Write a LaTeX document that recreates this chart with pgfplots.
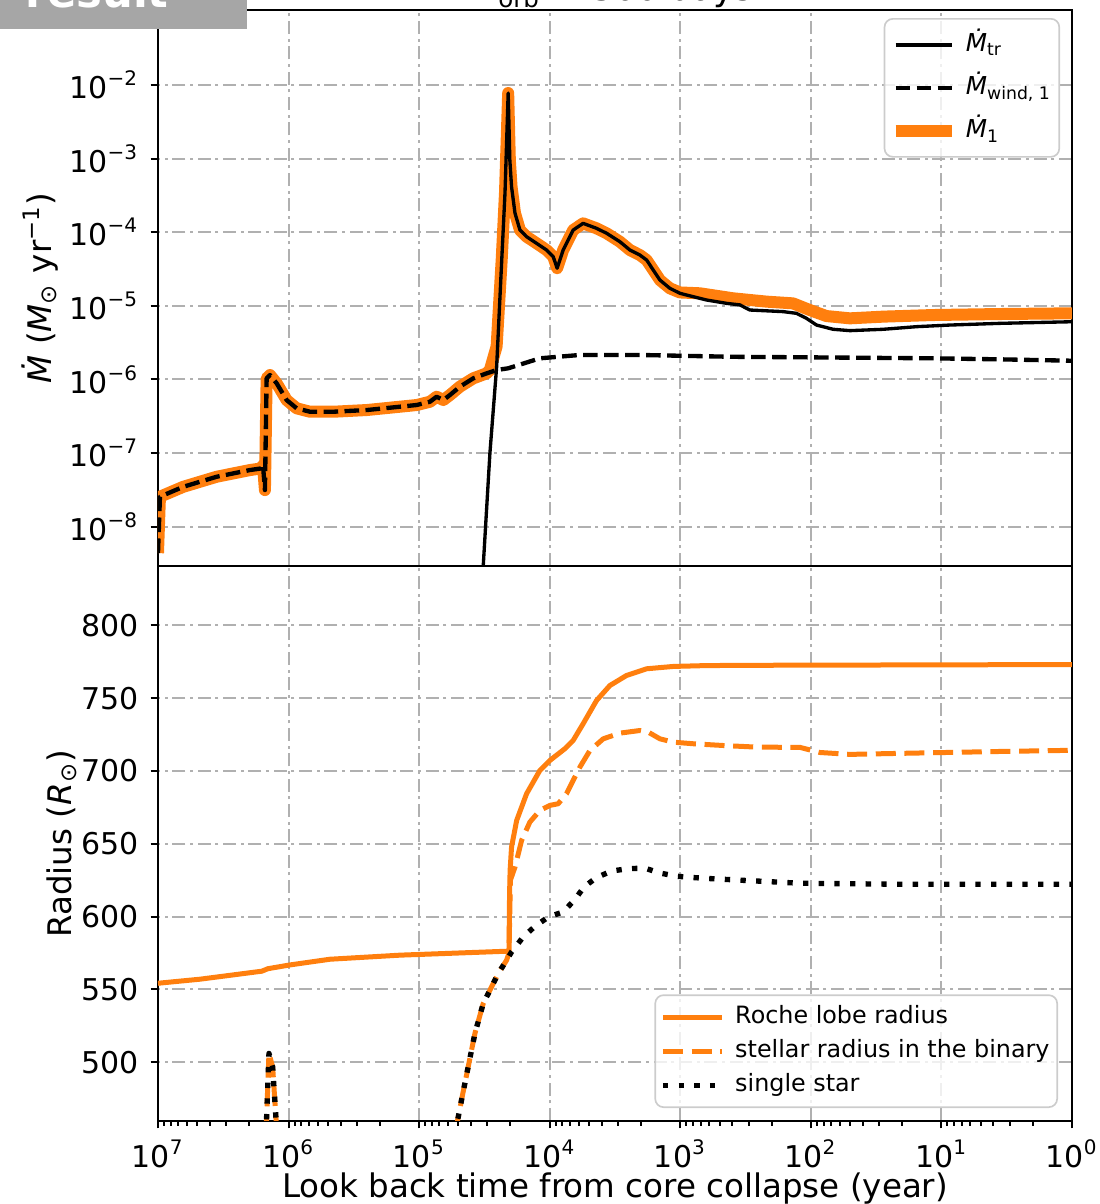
\documentclass[border=0pt]{standalone}
\usepackage{fontspec}
\setmainfont{DejaVu Sans}
\usepackage{pgfplots}
\usepackage{pgfplotstable}
\pgfplotsset{compat=1.18}

\definecolor{taborange}{RGB}{255,127,14}
\definecolor{gridgray}{RGB}{176,176,176}
\definecolor{legedge}{RGB}{204,204,204}
\definecolor{badge}{RGB}{166,166,166}

% ---------- mass-loss rates (Msun/yr) vs look-back time (yr) ----------
% total mass-loss rate of the donor
\pgfplotstableread{
t       m
1.0e7   4.37e-9
9.66e6  2.55e-8
6.40e6  3.48e-8
3.56e6  4.76e-8
1.98e6  5.87e-8
1.607e6 6.19e-8
1.570e6 6.87e-8
1.517e6 3.14e-8
1.472e6 1.035e-6
1.387e6 1.148e-6
1.233e6 8.85e-7
1.035e6 5.25e-7
8.67e5  4.05e-7
6.85e5  3.64e-7
4.55e5  3.64e-7
2.52e5  3.84e-7
1.403e5 4.26e-7
1.045e5 4.49e-7
8.26e4  4.98e-7
7.35e4  5.82e-7
6.53e4  5.25e-7
5.81e4  6.14e-7
4.88e4  7.96e-7
3.85e4  1.035e-6
3.04e4  1.21e-6
2.87e4  1.35e-6
2.55e4  2.81e-6
2.33e4  4.33e-5
2.20e4  3.43e-4
2.08e4  7.78e-3
2.02e4  9.57e-4
1.96e4  4.15e-4
1.845e4 1.82e-4
1.69e4  1.07e-4
1.503e4 8.69e-5
1.259e4 7.06e-5
1.057e4 5.73e-5
9.40e3  4.65e-5
8.77e3  3.24e-5
7.89e3  5.73e-5
6.61e3  1.07e-4
5.55e3  1.32e-4
4.38e3  1.13e-4
3.66e3  9.66e-5
2.90e3  7.43e-5
2.43e3  5.73e-5
2.04e3  4.90e-5
1.81e3  4.19e-5
1.61e3  3.06e-5
1.432e3 2.24e-5
1.202e3 1.73e-5
1.007e3 1.52e-5
708     1.48e-5
394     1.265e-5
218     1.14e-5
137     1.08e-5
102     8.77e-6
75.9    7.26e-6
50.2    6.76e-6
27.9    7.13e-6
11.6    7.50e-6
3.57    7.74e-6
1.0     7.91e-6
}\mdotone

% mass-transfer rate
\pgfplotstableread{
t       m
3.27e4  2.0e-9
2.87e4  1.0e-7
2.55e4  1.47e-6
2.33e4  4.19e-5
2.20e4  3.41e-4
2.08e4  7.78e-3
2.02e4  9.57e-4
1.96e4  4.15e-4
1.845e4 1.82e-4
1.69e4  1.07e-4
1.503e4 8.69e-5
1.259e4 7.06e-5
1.057e4 5.73e-5
9.40e3  4.65e-5
8.77e3  3.24e-5
7.89e3  5.73e-5
6.61e3  1.07e-4
5.55e3  1.32e-4
4.38e3  1.13e-4
3.66e3  9.66e-5
2.90e3  7.43e-5
2.43e3  5.73e-5
2.04e3  4.90e-5
1.81e3  4.19e-5
1.61e3  3.06e-5
1.432e3 2.24e-5
1.202e3 1.73e-5
1.007e3 1.48e-5
796     1.33e-5
630     1.20e-5
442     1.08e-5
350     1.03e-5
293     8.77e-6
163     8.34e-6
129     7.91e-6
108     6.76e-6
90.4    5.48e-6
67.5    4.80e-6
50.2    4.60e-6
27.9    4.80e-6
15.5    5.21e-6
8.63    5.48e-6
3.57    5.78e-6
1.0     6.08e-6
}\mdottr

% wind mass-loss rate
\pgfplotstableread{
t       m
1.0e7   4.37e-9
9.66e6  2.55e-8
6.40e6  3.48e-8
3.56e6  4.76e-8
1.98e6  5.87e-8
1.607e6 6.19e-8
1.570e6 6.87e-8
1.517e6 3.14e-8
1.472e6 1.035e-6
1.387e6 1.148e-6
1.233e6 8.85e-7
1.035e6 5.25e-7
8.67e5  4.05e-7
6.85e5  3.64e-7
4.55e5  3.64e-7
2.52e5  3.84e-7
1.403e5 4.26e-7
1.045e5 4.49e-7
8.26e4  4.98e-7
7.35e4  5.82e-7
6.53e4  5.25e-7
5.81e4  6.14e-7
4.88e4  7.96e-7
3.85e4  1.035e-6
3.04e4  1.21e-6
2.55e4  1.343e-6
2.08e4  1.416e-6
1.189e4 1.936e-6
5.87e3  2.15e-6
2.04e3  2.15e-6
395     2.03e-6
121     2.00e-6
11.6    1.936e-6
3.57    1.875e-6
1.0     1.795e-6
}\mdotwind

% ---------- radii (Rsun) vs look-back time (yr) ----------
\pgfplotstableread{
t       r
1.0e7   554.2
4.76e6  557.0
1.60e6  562.5
1.44e6  564.2
9.75e5  566.8
4.82e5  570.7
1.403e5 573.5
2.14e4  576.2
2.05e4  576.3
2.03e4  615.0
2.01e4  632.0
1.96e4  647.8
1.79e4  666.1
1.503e4 684.4
1.189e4 700.4
9.95e3  707.3
7.65e3  715.3
6.61e3  721.0
5.55e3  732.4
4.38e3  748.4
3.46e3  758.7
2.58e3  765.6
1.81e3  770.2
1.132e3 771.8
630     772.4
245     772.6
1.0     773.1
}\rochelobe

\pgfplotstableread{
t       r
5.32e4  450.6
4.73e4  474.2
4.21e4  496.8
3.74e4  519.7
3.23e4  540.3
2.87e4  549.4
2.48e4  560.9
2.14e4  570.0
2.05e4  575.0
2.00e4  625.0
1.845e4 634.0
1.64e4  652.4
1.419e4 664.9
1.189e4 672.9
9.95e3  676.4
8.61e3  677.5
7.43e3  684.4
6.61e3  693.5
5.87e3  702.7
4.92e3  714.1
3.89e3  722.1
2.90e3  726.0
2.04e3  727.8
1.76e3  726.7
1.432e3 722.1
1.132e3 719.8
796     718.7
469     717.5
261     716.4
121     716.2
85.3    712.7
50.2    711.4
20.8    712.1
3.57    713.4
1.0     714.2
}\binaryradius

\pgfplotstableread{
t       r
5.32e4  450.6
4.73e4  474.2
4.21e4  496.8
3.74e4  519.7
3.23e4  540.3
2.87e4  549.4
2.48e4  560.9
2.14e4  570.0
1.96e4  575.7
1.596e4 586.0
1.297e4 593.3
1.026e4 599.7
7.89e3  603.2
6.41e3  611.7
5.47e3  620.3
4.38e3  626.8
3.36e3  631.3
2.51e3  632.9
1.87e3  633.3
1.432e3 629.9
1.067e3 627.7
796     626.8
594     626.1
330     624.9
121     622.9
20.8    622.2
1.0     622.2
}\singlestar

% short excursion near 1.4 Myr (same in both radius tracks)
\pgfplotstableread{
t       r
1.49e6  450.0
1.48e6  456.8
1.413e6 506.0
1.324e6 496.8
1.239e6 456.8
1.225e6 450.0
}\radiusblip

\begin{document}
\begin{tikzpicture}

% ---------------- upper panel: mass-loss rates ----------------
\begin{axis}[
  scale only axis, width=274.2pt, height=166.8pt,
  at={(0pt,166.5pt)}, anchor=south west,
  xmode=log, ymode=log, x dir=reverse,
  xmin=1, xmax=1e7, ymin=2.92e-9, ymax=0.1045,
  axis line style={line width=0.7pt},
  tick align=outside, tick pos=left,
  major tick length=2.2pt, minor tick length=0pt,
  tick style={black, line width=0.6pt},
  grid=major,
  major grid style={gridgray, line width=0.6pt,
    dash pattern=on 3.9pt off 1.4pt on 0.9pt off 1.4pt},
  ticklabel style={font=\fontsize{9}{10}\selectfont},
  label style={font=\fontsize{9.75}{11}\selectfont},
  xtick={1,10,100,1000,1e4,1e5,1e6,1e7},
  xticklabels={}, xtick style={draw=none},
  ytick={1e-8,1e-7,1e-6,1e-5,1e-4,1e-3,1e-2},
  minor ytick={},
  yticklabels={10\textsuperscript{−8},10\textsuperscript{−7},10\textsuperscript{−6},10\textsuperscript{−5},10\textsuperscript{−4},10\textsuperscript{−3},10\textsuperscript{−2}},
  ylabel={\textit{\.M} (\textit{M}\textsubscript{⊙} yr\textsuperscript{−1})},
  ylabel style={at={(axis description cs:-0.129,0.5)}, anchor=center},
  legend cell align=left,
  legend style={at={(0.987,0.9856)}, anchor=north east,
    draw=legedge, line width=0.5pt, rounded corners=2.5pt,
    fill=white, fill opacity=0.8, text opacity=1,
    font=\fontsize{7.4}{8.5}\selectfont,
    inner xsep=1.5pt, inner ysep=3.3pt, row sep=3.9pt,
    nodes={text height=6pt, text depth=2pt, inner ysep=0.5pt, inner xsep=0.8pt}},
  legend image code/.code={\draw[#1] (0pt,0pt) -- (17pt,0pt); \path (18.5pt,0pt);},
]
\addlegendimage{black, line width=1pt}
\addlegendentry{\textit{\.M}\textsubscript{tr}}
\addlegendimage{black, line width=1.3pt, dash pattern=on 4.4pt off 1.9pt}
\addlegendentry{\textit{\.M}\textsubscript{wind, 1}}
\addlegendimage{taborange, line width=3.6pt}
\addlegendentry{\textit{\.M}\textsubscript{1}}

\addplot[forget plot, taborange, line width=3.6pt, line join=round] table[x=t, y=m] {\mdotone};
\addplot[forget plot, black, line width=1pt, line join=round] table[x=t, y=m] {\mdottr};
\addplot[forget plot, black, line width=1.3pt, line join=round, dash pattern=on 4.4pt off 1.9pt] table[x=t, y=m] {\mdotwind};
\end{axis}

% ---------------- lower panel: radii ----------------
\begin{axis}[
  scale only axis, width=274.2pt, height=166.5pt,
  at={(0pt,0pt)}, anchor=south west,
  xmode=log, x dir=reverse,
  xmin=1, xmax=1e7, ymin=459.6, ymax=840.8,
  axis line style={line width=0.7pt},
  tick align=outside, tick pos=left,
  major tick length=2.2pt, minor tick length=1.5pt,
  tick style={black, line width=0.6pt},
  grid=major,
  major grid style={gridgray, line width=0.6pt,
    dash pattern=on 3.9pt off 1.4pt on 0.9pt off 1.4pt},
  ticklabel style={font=\fontsize{9}{10}\selectfont},
  label style={font=\fontsize{9.75}{11}\selectfont},
  /pgf/number format/assume math mode=true,
  xtick={1,10,100,1000,1e4,1e5,1e6,1e7},
  xticklabels={10\textsuperscript{0},10\textsuperscript{1},10\textsuperscript{2},10\textsuperscript{3},10\textsuperscript{4},10\textsuperscript{5},10\textsuperscript{6},10\textsuperscript{7}},
  minor xtick={2,3,4,5,6,7,8,9,20,30,40,50,60,70,80,90,200,300,400,500,600,700,800,900,2000,3000,4000,5000,6000,7000,8000,9000,2e4,3e4,4e4,5e4,6e4,7e4,8e4,9e4,2e5,3e5,4e5,5e5,6e5,7e5,8e5,9e5,2e6,3e6,4e6,5e6,6e6,7e6,8e6,9e6},
  ytick={500,550,600,650,700,750,800},
  xlabel={Look back time from core collapse (year)},
  xlabel style={at={(axis description cs:0.5,-0.121)}, anchor=center},
  ylabel={Radius (\textit{R}\textsubscript{⊙})},
  ylabel style={at={(axis description cs:-0.105,0.5)}, anchor=center},
  legend cell align=left,
  legend style={at={(0.9847,0.0234)}, anchor=south east,
    draw=legedge, line width=0.5pt, rounded corners=2.5pt,
    fill=white, fill opacity=0.8, text opacity=1,
    font=\fontsize{7.15}{8.5}\selectfont,
    inner xsep=1.5pt, inner ysep=2pt, row sep=1pt,
    nodes={text height=6pt, text depth=2pt, inner ysep=0.6pt, inner xsep=0.8pt}},
  legend image code/.code={\draw[#1] (0pt,0pt) -- (17.7pt,0pt); \path (20.1pt,0pt);},
]
\addlegendimage{taborange, line width=1.5pt}
\addlegendentry{Roche lobe radius}
\addlegendimage{taborange, line width=1.5pt, dash pattern=on 6pt off 2.6pt}
\addlegendentry{stellar radius in the binary}
\addlegendimage{black, line width=1.6pt, dash pattern=on 1.6pt off 3.1pt}
\addlegendentry{single star}

\addplot[forget plot, taborange, line width=1.5pt, line join=round] table[x=t, y=r] {\rochelobe};
\addplot[forget plot, taborange, line width=1.5pt, line join=round, dash pattern=on 6pt off 2.6pt] table[x=t, y=r] {\binaryradius};
\addplot[forget plot, taborange, line width=1.5pt, line join=round, dash pattern=on 6pt off 2.6pt] table[x=t, y=r] {\radiusblip};
\addplot[forget plot, black, line width=1.6pt, line join=round, dash pattern=on 1.6pt off 3.1pt] table[x=t, y=r] {\singlestar};
\addplot[forget plot, black, line width=1.6pt, line join=round, dash pattern=on 1.6pt off 3.1pt] table[x=t, y=r] {\radiusblip};
\end{axis}

% panel title and badge (partly above the frame)
\node[anchor=base, font=\fontsize{10.5}{12}\selectfont] at (137.1pt,336.0pt)
  {\textit{P}\textsubscript{orb} = 500 days};
\fill[badge] (-47.4pt,327.6pt) rectangle (26.7pt,346pt);
\node[anchor=base west, text=white, font=\bfseries\fontsize{13}{15}\selectfont, inner sep=0pt]
  at (-39.9pt,333.9pt) {result};

\pgfresetboundingbox
\useasboundingbox (-47.4pt,-24.9pt) rectangle (282.3pt,336.3pt);
\end{tikzpicture}
\end{document}
